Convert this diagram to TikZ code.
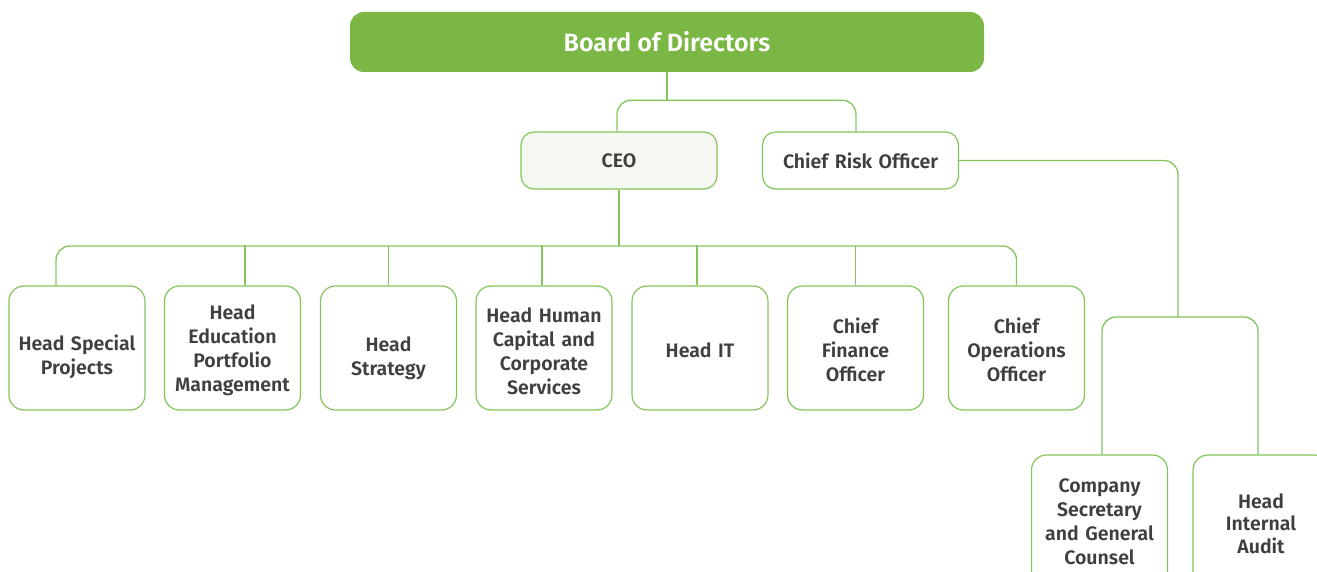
\documentclass[tikz,border=0pt]{standalone}
\usepackage{fontspec}
\setmainfont{Fira Sans}[BoldFont={Fira Sans SemiBold}]
\usetikzlibrary{calc}
\definecolor{boardgreen}{HTML}{7AB744}
\definecolor{linegreen}{HTML}{84C45A}
\definecolor{ceofill}{HTML}{F5F8F1}
\definecolor{txt}{HTML}{3F3F3F}
\begin{document}
\begin{tikzpicture}[x=1pt,y=-1pt,
  boxtext/.style={text width=130pt, align=center, inner sep=0pt, text=txt,
    font=\fontsize{19.5}{24}\selectfont\bfseries},
  box/.style={draw=linegreen, line width=1.2pt, rounded corners=15pt, fill=white,
    minimum width=136pt, minimum height=124pt, inner sep=0pt},
  topbox/.style={box, boxtext, minimum width=196pt, minimum height=57pt, text width=190pt, rounded corners=13pt},
  lowbox/.style={box, minimum height=134pt},
  conn/.style={draw=linegreen, line width=1.3pt, rounded corners=14pt}]
\useasboundingbox (0,0) rectangle (1317,572);
\clip (0,0) rectangle (1317,572);

% board
\node[fill=boardgreen, rounded corners=14pt, minimum width=634pt, minimum height=60pt,
  inner sep=0pt, text=white, font=\fontsize{25}{28}\selectfont\bfseries]
  (board) at (667,42) {Board of Directors};

% second level
\node[topbox, fill=ceofill] (ceo) at (619,160.5) {CEO};
\node[topbox] (cro) at (860.5,160.5) {Chief Risk Officer};

% third level (boxes span y 286--410)
\node[box] (h1) at (77,348) {};
\node[box] (h2) at (232.5,348) {};
\node[box] (h3) at (388.5,348) {};
\node[box] (h4) at (544,348) {};
\node[box] (h5) at (700,348) {};
\node[box] (h6) at (855.5,348) {};
\node[box] (h7) at (1016.5,348) {};
\node[boxtext] (h1t) at ([yshift=-9pt]h1.center) {Head Special\\Projects};
\node[boxtext] (h2t) at ([yshift=-2pt]h2.center) {Head\\Education\\Portfolio\\Management};
\node[boxtext] (h3t) at ([yshift=-10pt]h3.center) {Head\\Strategy};
\node[boxtext] (h4t) at ([yshift=-3pt]h4.center) {Head Human\\Capital and\\Corporate\\Services};
\node[boxtext] (h5t) at ([yshift=-2pt]h5.center) {Head IT};
\node[boxtext] (h6t) at ([yshift=-2pt]h6.center) {Chief\\Finance\\Officer};
\node[boxtext] (h7t) at ([yshift=-2pt]h7.center) {Chief\\Operations\\Officer};

% risk officer reports
\node[lowbox] (csg) at (1099.5,522) {};
\node[lowbox] (hia) at (1261,522) {};
\node[boxtext] (csgt) at (csg.center) {Company\\Secretary\\and General\\Counsel};
\node[boxtext, font=\fontsize{19.5}{22.5}\selectfont\bfseries] (hiat) at ([yshift=-1.5pt]hia.center) {Head\\Internal\\Audit};

% board to CEO and CRO
\draw[conn] (board.south) -- ++(0,28) coordinate (j1);
\draw[conn] ($(ceo.north)+(-2,0)$) |- (j1) -| ($(cro.north)+(-4.5,0)$);

% CEO bus
\coordinate (bus) at (618,246);
\draw[conn] (ceo.south) -- (ceo.south |- bus);
\draw[conn] ($(h1.north)+(-21,0)$) |- (bus) -| (h7.north);
\draw[conn] ($(h2.north)+(12.5,0)$) -- ++(0,-40);
\draw[conn] (h3.north) -- (h3.north |- bus);
\draw[conn] ($(h4.north)+(-2,0)$) -- ++(0,-40);
\draw[conn] ($(h5.north)+(-3,0)$) -- ++(0,-40);
\draw[conn] (h6.north) -- (h6.north |- bus);

% CRO branch
\coordinate (j2) at (1178,317);
\draw[conn] (cro.east) -| (j2);
\draw[conn] ($(csg.north)+(2.5,0)$) |- (j2) -| ($(hia.north)+(-3,0)$);
\end{tikzpicture}
\end{document}
